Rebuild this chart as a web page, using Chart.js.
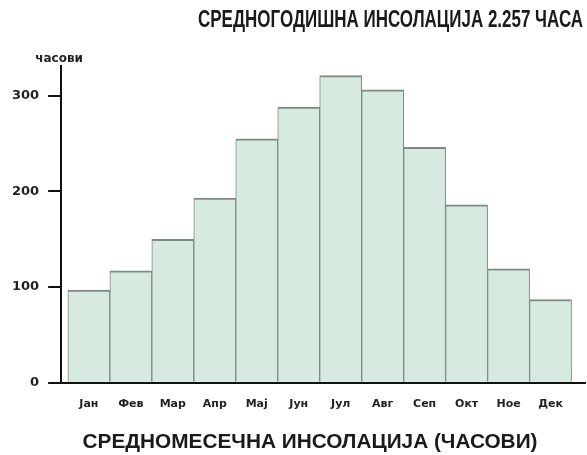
<!DOCTYPE html>
<html>
<head>
<meta charset="utf-8">
<script src="https://cdn.jsdelivr.net/npm/chart.js@4.4.1/dist/chart.umd.min.js"></script>
<style>
	html, body { margin: 0; padding: 0; background: #fff; }
	#wrap { width: 587px; height: 455px; }
</style>
</head>
<body>
<div id="wrap"><canvas id="bar-chartcanvas" width="587" height="455"></canvas></div>
<script>
// months and mean monthly sunshine hours
var months = ["Јан", "Фев", "Мар", "Апр", "Мај", "Јун", "Јул", "Авг", "Сеп", "Окт", "Ное", "Дек"];
var hours = [97, 117, 150, 193, 255, 288, 321, 306, 246, 186, 119, 87];
var yTicks = [0, 100, 200, 300];

var chartTitle = "СРЕДНОГОДИШНА ИНСОЛАЦИЈА 2.257 ЧАСА";
var xTitle = "СРЕДНОМЕСЕЧНА ИНСОЛАЦИЈА (ЧАСОВИ)";
var yUnit = "часови";

var sans = "'Liberation Sans', Arial, sans-serif";
var wide = "'DejaVu Sans', Verdana, sans-serif";

// squeeze a bold caption into a given width (the original uses a narrow face)
function narrowText(ctx, text, size, x, y, width, align) {
	ctx.save();
	ctx.font = "bold " + size + "px " + sans;
	var w = ctx.measureText(text).width;
	var k = Math.min(1, width / w);
	ctx.textBaseline = "alphabetic";
	ctx.textAlign = "left";
	var left = x;
	if (align == "center") left = x - w * k / 2;
	if (align == "right") left = x - w * k;
	ctx.translate(left, y);
	ctx.scale(k, 1);
	ctx.fillText(text, 0, 0);
	ctx.restore();
}

var captions = {
	id: "captions",
	afterDraw: function(chart) {
		var ctx = chart.ctx;
		var area = chart.chartArea;
		ctx.save();
		ctx.fillStyle = "#1a1a1a";
		narrowText(ctx, chartTitle, 23, 583, 27, 385, "right");
		narrowText(ctx, xTitle, 21, 310, 448, 455, "center");

		ctx.font = "bold 12px " + wide;
		ctx.fillStyle = "#222";
		ctx.textAlign = "center";
		ctx.textBaseline = "alphabetic";
		ctx.fillText(yUnit, area.left - 2, area.top - 4);
		ctx.restore();
	}
};

var points = [];
for (var i = 0; i < hours.length; i++) {
	points.push({ x: i, y: hours[i] });
}

var ctx = document.getElementById("bar-chartcanvas");

var data = {
	datasets : [
		{
			label : "часови",
			data : points,
			backgroundColor : "#d7eadf",
			borderColor : "#7d8a83",
			borderWidth : { top: 2, left: 1, right: 1, bottom: 0 },
			borderSkipped : false,
			barPercentage : 1,
			categoryPercentage : 1
		}
	]
};

var options = {
	responsive : false,
	animation : false,
	layout : { padding : { left: 3, right: 2, top: 66, bottom: 29 } },
	plugins : {
		legend : { display : false },
		tooltip : { enabled : false },
		title : { display : false }
	},
	scales : {
		x : {
			type : "linear",
			min : -0.66,
			max : 11.82,
			offset : false,
			grid : { display : false, drawTicks : false, offset : false },
			border : { display : true, color : "#111", width : 2 },
			ticks : {
				stepSize : 1,
				includeBounds : false,
				autoSkip : false,
				maxRotation : 0,
				padding : 15,
				color : "#222",
				font : { family: wide, size: 11, weight: "bold" },
				callback : function(v) { return months[v]; }
			}
		},
		y : {
			min : 0,
			max : 331,
			afterBuildTicks : function(axis) {
				axis.ticks = yTicks.map(function(v) { return { value: v }; });
			},
			grid : { drawOnChartArea : false, tickLength : 13, color : "#111", lineWidth : 2 },
			border : { display : true, color : "#111", width : 2 },
			ticks : {
				padding : 9,
				color : "#222",
				font : { family: wide, size: 13, weight: "bold" }
			}
		}
	}
};

var chart = new Chart(ctx, {
	type : "bar",
	data : data,
	options : options,
	plugins : [captions]
});
</script>
</body>
</html>
